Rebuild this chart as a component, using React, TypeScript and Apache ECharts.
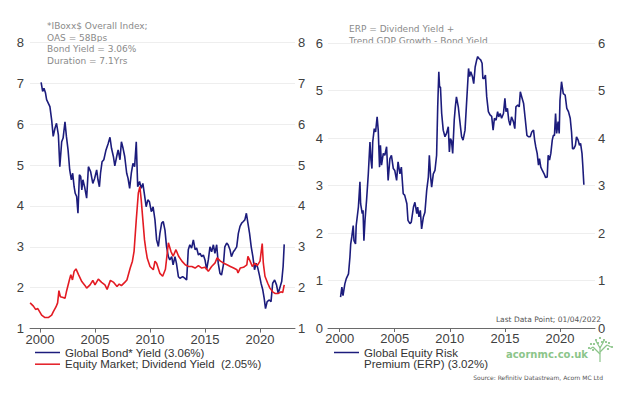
import React, { useEffect, useRef } from 'react';
import * as echarts from 'echarts';

// ---- Left panel: Global bond yield (%) ----
const bondYears = [
  2000.1, 2000.24, 2000.36, 2000.5, 2000.6, 2000.76, 2000.9, 2001.06, 2001.2, 2001.36,
  2001.5, 2001.67, 2001.8, 2001.97, 2002.1, 2002.27, 2002.4, 2002.55, 2002.7, 2002.85,
  2002.97, 2003.1, 2003.2, 2003.33, 2003.45, 2003.58, 2003.7, 2003.8, 2003.9, 2004.05,
  2004.24, 2004.4, 2004.6, 2004.8, 2004.97, 2005.15, 2005.27, 2005.4, 2005.5, 2005.64,
  2005.8, 2006.0, 2006.2, 2006.36, 2006.5, 2006.67, 2006.8, 2006.97, 2007.1, 2007.27,
  2007.4, 2007.55, 2007.7, 2007.88, 2008.0, 2008.15, 2008.3, 2008.45, 2008.6, 2008.75,
  2008.88, 2009.05, 2009.2, 2009.35, 2009.5, 2009.65, 2009.8, 2009.95, 2010.12, 2010.28,
  2010.45, 2010.6, 2010.76, 2010.9, 2011.06, 2011.2, 2011.36, 2011.5, 2011.67, 2011.8,
  2011.97, 2012.1, 2012.27, 2012.4, 2012.58, 2012.72, 2012.97, 2013.18, 2013.33, 2013.48,
  2013.62, 2013.78, 2013.94, 2014.1, 2014.24, 2014.4, 2014.55, 2014.7, 2014.85, 2015.0,
  2015.15, 2015.3, 2015.45, 2015.6, 2015.76, 2015.9, 2016.06, 2016.2, 2016.36, 2016.5,
  2016.67, 2016.8, 2016.97, 2017.1, 2017.27, 2017.4, 2017.58, 2017.72, 2017.88, 2018.03,
  2018.18, 2018.33, 2018.48, 2018.62, 2018.76, 2018.9, 2019.05, 2019.2, 2019.35, 2019.5,
  2019.65, 2019.8, 2019.95, 2020.1, 2020.25, 2020.38, 2020.5, 2020.65, 2020.85, 2021.0,
  2021.15, 2021.33, 2021.5, 2021.65, 2021.75, 2021.88, 2021.97, 2022.1, 2022.2
];
const bondYield = [
  7.02, 6.8, 6.88, 6.76, 6.6, 6.51, 6.43, 6.1, 5.7, 5.9,
  6.02, 5.74, 4.96, 5.57, 5.66, 6.06, 5.7, 5.37, 4.88, 4.64,
  4.8, 4.47, 4.31, 4.23, 3.82, 4.76, 4.72, 4.39, 4.64, 4.47,
  4.19, 4.96, 4.84, 4.55, 4.68, 4.88, 4.64, 4.47, 4.8, 5.08,
  5.13, 5.37, 5.53, 5.68, 5.41, 5.21, 4.98, 5.21, 5.37, 5.13,
  5.57, 5.41, 5.21, 4.8, 4.68, 4.43, 4.8, 5.04, 4.96, 5.57,
  4.47, 4.6, 4.43, 4.55, 4.27, 3.98, 4.15, 4.1, 3.86, 3.98,
  3.66, 3.17, 3.01, 3.33, 3.58, 3.62, 3.41, 3.01, 2.76, 2.68,
  2.76, 2.56, 2.76, 2.6, 2.27, 2.23, 2.27, 2.23, 2.19, 2.93,
  3.05, 2.97, 3.17, 2.93, 2.97, 2.8, 2.84, 2.76, 2.8, 2.68,
  2.44, 2.68, 3.0, 2.88, 3.05, 2.84, 3.05, 2.6, 2.35, 2.31,
  2.56, 3.0, 3.09, 3.05, 2.93, 2.76, 2.88, 2.93, 3.0, 3.33,
  3.5, 3.58, 3.62, 3.66, 3.82, 3.58, 3.33, 3.0, 2.76, 2.44,
  2.6, 2.48, 2.3, 2.1, 1.95, 1.74, 1.49, 1.66, 1.7, 1.66,
  2.11, 2.19, 2.07, 1.86, 1.95, 2.07, 2.15, 2.52, 3.06
];

// ---- Left panel: Equity market dividend yield (%) ----
const divYears = [
  1999.1, 1999.4, 1999.6, 1999.8, 2000.15, 2000.45, 2000.75, 2001.06, 2001.2, 2001.45,
  2001.6, 2001.72, 2001.85, 2002.1, 2002.27, 2002.4, 2002.67, 2002.8, 2002.95, 2003.1,
  2003.27, 2003.5, 2003.8, 2004.1, 2004.24, 2004.55, 2004.8, 2005.0, 2005.3, 2005.6,
  2005.9, 2006.1, 2006.4, 2006.7, 2007.0, 2007.2, 2007.4, 2007.7, 2007.9, 2008.2,
  2008.4, 2008.55, 2008.75, 2008.94, 2009.08, 2009.2, 2009.35, 2009.5, 2009.62, 2009.75,
  2010.0, 2010.3, 2010.45, 2010.6, 2010.9, 2011.15, 2011.4, 2011.67, 2011.9, 2012.1,
  2012.36, 2012.6, 2012.9, 2013.2, 2013.5, 2013.8, 2014.1, 2014.4, 2014.7, 2015.0,
  2015.3, 2015.6, 2015.9, 2016.1, 2016.4, 2016.7, 2017.0, 2017.3, 2017.6, 2017.9,
  2018.0, 2018.2, 2018.5, 2018.8, 2018.9, 2019.1, 2019.3, 2019.5, 2019.75, 2020.0,
  2020.2, 2020.3, 2020.45, 2020.7, 2020.9, 2021.15, 2021.36, 2021.67, 2021.9, 2022.06,
  2022.2
];
const divYield = [
  1.63, 1.55, 1.47, 1.49, 1.33, 1.27, 1.27, 1.33, 1.41, 1.53,
  1.63, 1.93, 1.78, 1.76, 1.74, 1.9, 2.19, 2.32, 2.19, 2.4,
  2.46, 2.32, 2.15, 2.05, 1.99, 2.07, 2.18, 2.07, 2.21, 2.13,
  2.07, 1.96, 2.18, 2.13, 2.03, 2.09, 2.05, 2.13, 2.19, 2.48,
  2.65, 2.89, 3.66, 4.32, 4.47, 4.15, 3.66, 3.17, 2.93, 2.72,
  2.52, 2.44, 2.65, 2.6, 2.35, 2.28, 2.45, 3.1, 2.89, 2.77,
  2.93, 2.77, 2.65, 2.56, 2.52, 2.52, 2.48, 2.54, 2.48, 2.5,
  2.4, 2.52, 2.6, 2.73, 2.65, 2.6, 2.56, 2.52, 2.48, 2.44,
  2.36, 2.48, 2.5, 2.56, 2.77, 2.65, 2.52, 2.6, 2.54, 2.65,
  3.08, 2.6, 2.28, 2.11, 1.99, 1.9, 1.86, 1.86, 1.9, 1.88,
  2.07
];

// ---- Right panel: Global equity risk premium (%) ----
const erpYears = [
  2000.08, 2000.2, 2000.3, 2000.47, 2000.6, 2000.8, 2000.93, 2001.0, 2001.1, 2001.23,
  2001.3, 2001.44, 2001.5, 2001.7, 2001.84, 2001.9, 2002.05, 2002.12, 2002.2, 2002.3,
  2002.44, 2002.6, 2002.75, 2002.84, 2002.93, 2003.0, 2003.14, 2003.26, 2003.4, 2003.5,
  2003.62, 2003.7, 2003.8, 2003.96, 2004.1, 2004.26, 2004.4, 2004.56, 2004.7, 2004.87,
  2005.0, 2005.17, 2005.3, 2005.47, 2005.6, 2005.77, 2005.9, 2006.1, 2006.2, 2006.38,
  2006.5, 2006.7, 2006.83, 2007.0, 2007.08, 2007.2, 2007.32, 2007.44, 2007.6, 2007.74,
  2007.9, 2008.05, 2008.14, 2008.26, 2008.35, 2008.5, 2008.65, 2008.8, 2008.9, 2009.0,
  2009.07, 2009.15, 2009.26, 2009.4, 2009.56, 2009.7, 2009.86, 2009.96, 2010.05, 2010.15,
  2010.26, 2010.4, 2010.5, 2010.6, 2010.77, 2010.9, 2011.07, 2011.2, 2011.38, 2011.5,
  2011.7, 2011.8, 2011.9, 2012.05, 2012.17, 2012.3, 2012.44, 2012.53, 2012.65, 2012.8,
  2012.93, 2013.0, 2013.12, 2013.23, 2013.35, 2013.5, 2013.65, 2013.8, 2013.93, 2014.05,
  2014.2, 2014.34, 2014.44, 2014.57, 2014.7, 2014.87, 2015.0, 2015.1, 2015.23, 2015.35,
  2015.47, 2015.6, 2015.77, 2015.9, 2016.0, 2016.17, 2016.3, 2016.4, 2016.53, 2016.7,
  2016.84, 2017.0, 2017.14, 2017.3, 2017.44, 2017.6, 2017.7, 2017.8, 2017.93, 2018.05,
  2018.14, 2018.26, 2018.4, 2018.56, 2018.7, 2018.84, 2018.93, 2019.05, 2019.17, 2019.3,
  2019.4, 2019.5, 2019.6, 2019.7, 2019.83, 2019.93, 2020.0, 2020.14, 2020.23, 2020.3,
  2020.47, 2020.62, 2020.77, 2020.93, 2021.05, 2021.14, 2021.26, 2021.4, 2021.5, 2021.65,
  2021.77, 2021.87, 2022.0, 2022.07, 2022.17
];
const erpValues = [
  0.65, 0.86, 0.68, 0.93, 1.04, 1.14, 1.49, 1.77, 1.92, 2.16,
  1.84, 1.77, 2.16, 2.55, 3.08, 2.62, 2.41, 2.48, 1.84, 2.27,
  2.69, 3.25, 3.92, 3.54, 3.36, 3.92, 4.2, 4.13, 4.45, 4.17,
  3.39, 3.85, 3.43, 3.68, 3.64, 3.82, 3.11, 3.57, 3.64, 3.36,
  3.32, 3.11, 3.5, 3.25, 3.39, 2.83, 2.8, 2.62, 2.27, 2.2,
  2.23, 2.55, 2.65, 2.41, 2.55, 2.34, 2.48, 2.09, 2.34, 2.44,
  2.9, 3.18, 3.64, 3.18, 2.97, 3.25, 3.32, 3.64, 4.66, 5.4,
  5.08, 5.08, 4.52, 4.17, 4.03, 4.1, 4.24, 3.71, 3.99, 3.95,
  3.68, 4.38, 4.66, 4.87, 4.66, 4.38, 4.03, 3.96, 4.17, 4.66,
  5.47, 5.3, 5.4, 5.3, 5.15, 5.5, 5.65, 5.72, 5.68, 5.65,
  5.58, 5.26, 5.26, 5.33, 4.87, 4.56, 4.49, 4.46, 4.17, 4.42,
  4.38, 4.56, 4.45, 4.52, 4.42, 4.52, 4.84, 4.56, 4.63, 4.38,
  4.27, 4.45, 4.35, 4.2, 4.66, 4.7, 4.66, 4.98, 4.87, 4.73,
  4.42, 4.06, 4.03, 4.03, 4.13, 4.17, 3.96, 3.82, 3.68, 3.43,
  3.57, 3.39, 3.32, 3.25, 3.17, 3.18, 3.64, 3.54, 3.68, 3.96,
  4.06, 4.06, 4.52, 4.1, 4.35, 4.1, 4.8, 5.19, 5.05, 4.94,
  4.91, 4.63, 4.56, 4.42, 4.13, 3.78, 3.78, 3.85, 4.03, 3.96,
  3.85, 3.89, 3.68, 3.43, 3.02
];

const yearTicks = [2000, 2005, 2010, 2015, 2020];

const pairs = (xs: number[], ys: number[]) => xs.map((x, i) => [x, ys[i]]);

const NAVY = '#1c1c7c';
const RED = '#e31b23';
const AXIS_TXT = '#404040';
const NOTE = '#8a8a8a';
const GREEN = '#8cc58a';
const FONT = '"Liberation Sans", Arial, sans-serif';
const NOTE_FONT = '"DejaVu Sans", Verdana, sans-serif';

function xAxisCfg(gridIndex: number, min: number, max: number) {
  return {
    type: 'value',
    gridIndex,
    min,
    max,
    axisLine: { show: true, onZero: false, lineStyle: { color: '#6a6a6a', width: 1 } },
    axisTick: { show: true, customValues: yearTicks, length: 4, lineStyle: { color: '#6a6a6a' } },
    axisLabel: {
      customValues: yearTicks,
      color: AXIS_TXT,
      fontSize: 13,
      fontFamily: FONT,
      margin: 4,
      formatter: (v: number) => String(Math.round(v)),
    },
    splitLine: { show: false },
  };
}

function yAxisCfg(gridIndex: number, min: number, max: number, position: string, margin: number, split: boolean) {
  return {
    type: 'value',
    gridIndex,
    min,
    max,
    interval: 1,
    position,
    axisLine: { show: false },
    axisTick: { show: false },
    axisLabel: { color: AXIS_TXT, fontSize: 13, fontFamily: FONT, margin },
    splitLine: { show: split, lineStyle: { color: '#eeeeee', width: 1 } },
  };
}

function noteText(x: number, y: number, text: string) {
  return {
    type: 'text',
    x,
    y,
    style: { text, fill: NOTE, font: `9px ${NOTE_FONT}`, textVerticalAlign: 'middle' },
  };
}

function legendText(x: number, y: number, text: string) {
  return {
    type: 'text',
    x,
    y,
    style: { text, fill: '#333333', font: `11.5px ${FONT}`, textVerticalAlign: 'middle' },
  };
}

function legendLine(x1: number, x2: number, y: number, color: string) {
  return { type: 'line', shape: { x1, y1: y, x2, y2: y }, style: { stroke: color, lineWidth: 1.5 } };
}

export default function App() {
  const ref = useRef<HTMLDivElement>(null);
  useEffect(() => {
    if (!ref.current) return;
    const chart = echarts.init(ref.current, null, { renderer: 'svg' });
    const treeParts: any[] = [];
    const br = [
      [600, 362, 600, 346],
      [600, 354, 593, 347],
      [600, 352, 607, 345],
      [600, 348, 596, 341],
      [600, 348, 604, 341],
      [593, 347, 590, 349],
      [607, 345, 611, 347],
    ];
    br.forEach((b) =>
      treeParts.push({ type: 'line', shape: { x1: b[0], y1: b[1], x2: b[2], y2: b[3] }, style: { stroke: GREEN, lineWidth: 1.2 } })
    );
    const dots = [
      [596, 340], [600, 338], [604, 340], [591, 344], [609, 343], [589, 348], [612, 347],
      [594, 344], [606, 342], [598, 343], [602, 342], [593, 350], [608, 349],
    ];
    dots.forEach((d) =>
      treeParts.push({ type: 'circle', shape: { cx: d[0], cy: d[1], r: 1.1 }, style: { fill: GREEN } })
    );

    chart.setOption({
      animation: false,
      backgroundColor: '#ffffff',
      grid: [
        { left: 30, right: 329, top: 42.4, bottom: 65.4 },
        { left: 328, right: 29, top: 43.3, bottom: 66 },
      ],
      xAxis: [xAxisCfg(0, 1999.09, 2023.18), xAxisCfg(1, 1998.94, 2023.18)],
      yAxis: [
        yAxisCfg(0, 1, 8, 'left', 6, true),
        yAxisCfg(0, 1, 8, 'right', 3, false),
        yAxisCfg(1, 0, 6, 'left', 5, true),
        yAxisCfg(1, 0, 6, 'right', 3, false),
      ],
      series: [
        {
          name: 'Global Bond* Yield (3.06%)',
          type: 'line',
          xAxisIndex: 0,
          yAxisIndex: 0,
          data: pairs(bondYears, bondYield),
          showSymbol: false,
          lineStyle: { color: NAVY, width: 1.6 },
          itemStyle: { color: NAVY },
        },
        {
          name: 'Equity Market; Dividend Yield  (2.05%)',
          type: 'line',
          xAxisIndex: 0,
          yAxisIndex: 0,
          data: pairs(divYears, divYield),
          showSymbol: false,
          lineStyle: { color: RED, width: 1.6 },
          itemStyle: { color: RED },
        },
        {
          name: 'Global Equity Risk Premium (ERP) (3.02%)',
          type: 'line',
          xAxisIndex: 1,
          yAxisIndex: 2,
          data: pairs(erpYears, erpValues),
          showSymbol: false,
          lineStyle: { color: NAVY, width: 1.6 },
          itemStyle: { color: NAVY },
        },
      ],
      graphic: [
        noteText(47, 26, '*IBoxx$ Overall Index;'),
        noteText(47, 37.5, 'OAS = 58Bps'),
        noteText(47, 49, 'Bond Yield = 3.06%'),
        noteText(47, 60.5, 'Duration = 7.1Yrs'),
        noteText(349, 29, 'ERP = Dividend Yield +'),
        noteText(349, 41, 'Trend GDP Growth - Bond Yield'),
        legendLine(35, 60, 352.5, NAVY),
        legendText(65, 352.5, 'Global Bond* Yield (3.06%)'),
        legendLine(35, 60, 364.2, RED),
        legendText(65, 364.2, 'Equity Market; Dividend Yield  (2.05%)'),
        legendLine(334, 359, 352.5, NAVY),
        legendText(364, 352.5, 'Global Equity Risk'),
        legendText(364, 364.2, 'Premium (ERP) (3.02%)'),
        {
          type: 'text',
          x: 601,
          y: 319,
          style: { text: 'Last Data Point; 01/04/2022', fill: '#555555', font: `7.5px ${NOTE_FONT}`, textAlign: 'right', textVerticalAlign: 'middle' },
        },
        {
          type: 'text',
          x: 588,
          y: 354,
          style: { text: 'acornmc.co.uk', fill: GREEN, font: `bold 10px ${NOTE_FONT}`, textAlign: 'right', textVerticalAlign: 'middle' },
        },
        {
          type: 'text',
          x: 603,
          y: 377,
          style: { text: 'Source: Refinitiv Datastream, Acorn MC Ltd', fill: '#555555', font: `6px ${NOTE_FONT}`, textAlign: 'right', textVerticalAlign: 'middle' },
        },
        ...treeParts,
      ],
    });
    return () => chart.dispose();
  }, []);
  return (
    <div
      ref={ref}
      style={{ position: 'absolute', left: 0, top: 0, width: 624, height: 394, background: '#ffffff' }}
    />
  );
}
